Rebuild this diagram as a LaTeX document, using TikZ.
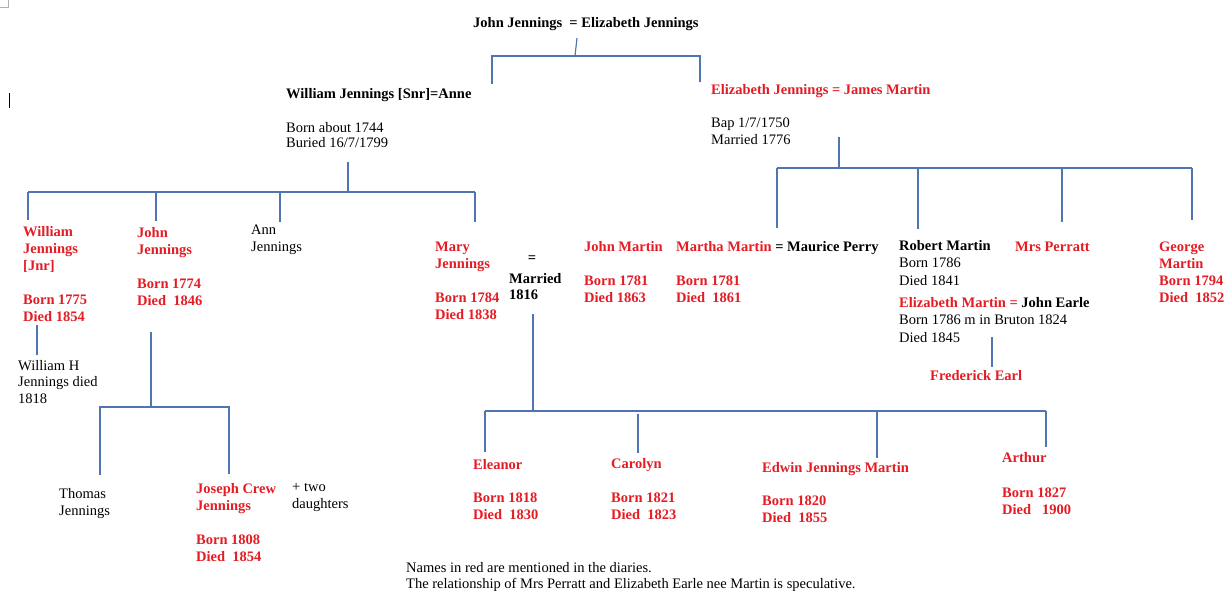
\documentclass[tikz,border=0pt]{standalone}
\usepackage{fontspec}
\setmainfont{Liberation Serif}
\usepackage{xcolor}
\usepackage{tikz}

\definecolor{diary}{RGB}{228,28,36}
\definecolor{tieblue}{RGB}{79,118,178}

\begin{document}
\begin{tikzpicture}[x=1pt,y=-1pt,
	person/.style={anchor=north west,inner sep=0pt,align=left,font=\fontsize{14.5}{17}\selectfont\bfseries},
	named/.style={person,text=diary},
	other/.style={anchor=north west,inner sep=0pt,align=left,font=\fontsize{14.5}{16.5}\selectfont},
	tie/.style={draw=tieblue,line width=1.2pt}]

\useasboundingbox (0,0) rectangle (1232,591);

% page marks
\draw[black!30] (0,7)--(8,7)--(8,0);
\draw[line width=1pt] (9,93)--(9,108);

% first generation
\node[person] (top) at (473,17) {John Jennings\ \ = Elizabeth Jennings};

\node[person] (snr) at (286,88) {William Jennings [Snr]=Anne};
\node[other,font=\fontsize{14.5}{15}\selectfont] (snrdates) at (286,122) {Born about 1744\\Buried 16/7/1799};

\node[named] (eliz) at (711,84) {Elizabeth Jennings = James Martin};
\node[other] (elizdates) at (711,118) {Bap 1/7/1750\\Married 1776};

% children of William and Anne
\node[named] (wjnr) at (23,226) {William\\Jennings\\{[Jnr]}\\[17pt]Born 1775\\Died 1854};
\node[named] (john) at (137,227) {John\\Jennings\\[17pt]Born 1774\\Died\ \ 1846};
\node[other] (ann) at (251,225) {Ann\\Jennings};
\node[named] (mary) at (435,242) {Mary\\Jennings\\[17pt]Born 1784\\Died 1838};
\node[person,anchor=center] (eq) at (532,259) {=};
\node[person,font=\fontsize{14.5}{16}\selectfont\bfseries] (married) at (509,273) {Married\\1816};

% children of Elizabeth and James
\node[named] (jmartin) at (584,241) {John Martin\\[17pt]Born 1781\\Died 1863};
\node[named] (martha) at (676,241) {Martha Martin {\color{black}= Maurice Perry}\\[17pt]Born 1781\\Died\ \ 1861};
\node[other,font=\fontsize{14.5}{17.5}\selectfont] (robert) at (899,240) {\textbf{Robert Martin}\\Born 1786\\Died 1841};
\node[other,font=\fontsize{14.5}{17.5}\selectfont] (emartin) at (899,297) {\textbf{\color{diary}Elizabeth Martin =} \textbf{John Earle}\\Born 1786 m in Bruton 1824\\Died 1845};
\node[named] (frederick) at (930,370) {Frederick Earl};
\node[named] (perratt) at (1015,242) {Mrs Perratt};
\node[named] (george) at (1159,242) {George\\Martin\\Born 1794\\Died\ \ 1852};

% grandchildren
\node[other] (whj) at (18,360) {William H\\Jennings died\\1818};
\node[other,font=\fontsize{14.5}{17}\selectfont] (thomas) at (59,488) {Thomas\\Jennings};
\node[named] (joseph) at (196,483) {Joseph Crew\\Jennings\\[17pt]Born 1808\\Died\ \ 1854};
\node[other,font=\fontsize{14.5}{17}\selectfont] (daughters) at (292,483) {+ two\\daughters};

\node[named] (eleanor) at (473,459) {Eleanor\\[16pt]Born 1818\\Died\ \ 1830};
\node[named] (carolyn) at (611,458) {Carolyn\\[17pt]Born 1821\\Died\ \ 1823};
\node[named] (edwin) at (762,462) {Edwin Jennings Martin\\[16pt]Born 1820\\Died\ \ 1855};
\node[named] (arthur) at (1002,452) {Arthur\\[18pt]Born 1827\\Died\ \ \ 1900};

\node[other,font=\fontsize{14.5}{16}\selectfont] (note) at (406,562) {Names in red are mentioned in the diaries.\\The relationship of Mrs Perratt and Elizabeth Earle nee Martin is speculative.};

% ties
\coordinate (top-stem) at (577,38);
\coordinate (top-bar) at (575,56);
\coordinate (snr-drop) at (492,84);
\coordinate (eliz-drop) at (700,82);
\draw[tie] (top-stem)--(top-bar);
\draw[tie] (snr-drop)--(snr-drop |- top-bar)--(eliz-drop |- top-bar)--(eliz-drop);

\coordinate (snr-stem) at (348,162);
\coordinate (snr-bar) at (348,192);
\draw[tie] (snr-stem)--(snr-bar);
\foreach \n/\x/\y in {wjnr/28/220,john/156/221,ann/280/222,mary/475/222}{
	\coordinate (\n-drop) at (\x,\y);
}
\draw[tie] (wjnr-drop |- snr-bar)--(mary-drop |- snr-bar);
\foreach \n in {wjnr,john,ann,mary}{
	\draw[tie] (\n-drop |- snr-bar)--(\n-drop);
}

\coordinate (eliz-stem) at (839,137);
\coordinate (eliz-bar) at (839,168);
\draw[tie] (eliz-stem)--(eliz-bar);
\foreach \n/\x/\y in {martha/777/228,robert/918/229,perratt/1062/222,george/1192/220}{
	\coordinate (\n-drop) at (\x,\y);
}
\draw[tie] (martha-drop |- eliz-bar)--(george-drop |- eliz-bar);
\foreach \n in {martha,robert,perratt,george}{
	\draw[tie] (\n-drop |- eliz-bar)--(\n-drop);
}

\coordinate (wjnr-stem) at (37,325);
\coordinate (whj-drop) at (37,355);
\draw[tie] (wjnr-stem)--(whj-drop);

\coordinate (john-stem) at (151,332);
\coordinate (john-bar) at (151,407);
\coordinate (thomas-drop) at (100,475);
\coordinate (joseph-drop) at (229,474);
\draw[tie] (john-stem)--(john-bar);
\draw[tie] (thomas-drop)--(thomas-drop |- john-bar)--(joseph-drop |- john-bar)--(joseph-drop);

\coordinate (married-stem) at (533,314);
\coordinate (married-bar) at (533,411);
\draw[tie] (married-stem)--(married-bar);
\foreach \n/\x/\y in {eleanor/485/452,carolyn/638/453,edwin/877/458,arthur/1046/447}{
	\coordinate (\n-drop) at (\x,\y);
}
\draw[tie] (eleanor-drop |- married-bar)--(arthur-drop |- married-bar);
\foreach \n in {eleanor,edwin,arthur}{
	\draw[tie] (\n-drop |- married-bar)--(\n-drop);
}
\coordinate (carolyn-top) at (638,414);
\draw[tie] (carolyn-top)--(carolyn-drop);

\coordinate (emartin-stem) at (992,337);
\coordinate (frederick-drop) at (992,367);
\draw[tie] (emartin-stem)--(frederick-drop);

\end{tikzpicture}
\end{document}
